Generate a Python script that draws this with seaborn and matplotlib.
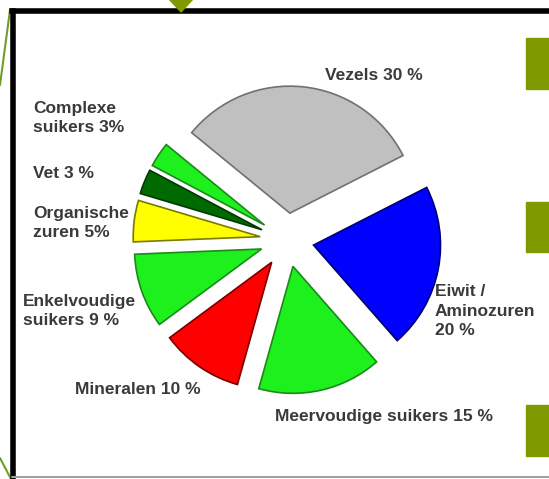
import numpy as np
import pandas as pd
import matplotlib.pyplot as plt
import matplotlib.patches as mpatches
import seaborn as sns

# pie data, counter-clockwise starting with Vezels
categories = ['Vezels', 'Complexe suikers', 'Vet', 'Organische zuren',
              'Enkelvoudige suikers', 'Mineralen', 'Meervoudige suikers',
              'Eiwit / Aminozuren']
percentages = [30, 3, 3, 5, 9, 10, 15, 20]
label_texts = ['Vezels 30 %', 'Complexe\nsuikers 3%', 'Vet 3 %',
               'Organische\nzuren 5%', 'Enkelvoudige\nsuikers 9 %',
               'Mineralen 10 %', 'Meervoudige suikers 15 %',
               'Eiwit /\nAminozuren\n20 %']

dfPie = pd.DataFrame({'Category': categories, 'Percent': percentages, 'Label': label_texts})

# styles
fillColors = ['#C0C0C0', '#1EF01E', '#006A00', '#FFFF00', '#1EF01E', '#FF0000', '#1EF01E', '#0000FF']
edgeColors = ['#707070', '#1A8A1A', '#003A00', '#7A7A00', '#1A8A1A', '#7A0000', '#1A8A1A', '#000070']
labelPos = [(325, 75), (33, 118), (33, 173), (33, 223), (23, 311), (75, 390), (275, 417), (435, 311)]

W, H = 549, 479
sns.set_style('white')
plt.rcParams['font.family'] = ['Liberation Sans', 'DejaVu Sans']

fig = plt.figure(figsize=(W / 100, H / 100), dpi=100)
ax = fig.add_axes([0, 0, 1, 1])

#Slide decorations: black frame, olive markers, green lines
ax.plot([12, W + 5], [H - 11, H - 11], color='black', lw=4, solid_capstyle='projecting', zorder=1)
ax.plot([12.5, 12.5], [H - 11, -5], color='black', lw=4, solid_capstyle='projecting', zorder=1)
ax.plot([12, W], [H - 477, H - 477], color='#A0A0A0', lw=1.5, zorder=1)
ax.plot([0, 10], [H - 85, H - 10], color='#6E9E2A', lw=1.5, zorder=0)
ax.plot([0, 11], [H - 458, H - 479], color='#6E9E2A', lw=1.5, zorder=0)
ax.add_patch(mpatches.Polygon([(168, H + 2), (194, H + 2), (181, H - 12)], closed=True,
                              color='#7F9A00', zorder=2))
for y0, y1 in [(38, 89), (202, 252), (405, 456)]:
    ax.add_patch(mpatches.Rectangle((526, H - y1), 30, y1 - y0, color='#7F9A00', zorder=2))

#The exploded pie (explode is in data units here, i.e. pixels)
wedges, _ = ax.pie(dfPie['Percent'], explode=[27] * len(dfPie), startangle=27,
                   counterclock=True, center=(287, H - 240), radius=127,
                   colors=fillColors, wedgeprops=dict(linewidth=1.2))
for w, ec in zip(wedges, edgeColors):
    w.set_edgecolor(ec)
    w.set_zorder(3)

for (x, y), txt in zip(labelPos, dfPie['Label']):
    ax.text(x, H - y, txt, ha='left', va='center', fontsize=12.5, fontweight='bold',
            color='#3A3A3A', linespacing=1.4, zorder=4)

ax.set_xlim(0, W)
ax.set_ylim(0, H)
ax.set_aspect('auto')
ax.axis('off')
fig.savefig('out.png', dpi=100, facecolor='white')
